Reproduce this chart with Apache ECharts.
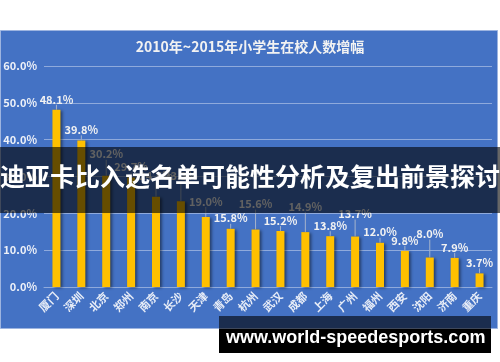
<!DOCTYPE html>
<html>
<head>
<meta charset="utf-8">
<script src="https://cdn.jsdelivr.net/npm/echarts@6/dist/echarts.min.js"></script>
<style>
html,body{margin:0;padding:0;background:#fff;}
#c{width:500px;height:362px;}
</style>
</head>
<body>
<div id="c"></div>
<script>
const titleText = '2010年~2015年小学生在校人数增幅';
const categories = ['厦门','深圳','北京','郑州','南京','长沙','天津','青岛','杭州','武汉','成都','上海','广州','福州','西安','沈阳','济南','重庆'];
const growth = [48.1, 39.8, 30.2, 29.7, 24.5, 23.3, 19.0, 15.8, 15.6, 15.2, 14.9, 13.8, 13.7, 12.0, 9.8, 8.0, 7.9, 3.7];
const yTicks = [0, 10, 20, 30, 40, 50, 60];
const bannerText = '迪亚卡比入选名单可能性分析及复出前景探讨';
const siteText = 'www.world-speedesports.com';

// label lifts (styling): some labels were moved upward in the original
const labelLift = {2: -11, 4: -10, 5: -15, 6: -5, 8: -15, 10: -15, 12: -12, 15: -13};

const chart = echarts.init(document.getElementById('c'), null, {renderer: 'canvas'});
const font = '"Noto Sans CJK SC", "Noto Sans", sans-serif';

chart.setOption({
  backgroundColor: '#ffffff',
  animation: false,
  title: {
    text: titleText,
    left: 'center',
    top: 35,
    textStyle: {color: '#f2f2f2', fontSize: 14, fontWeight: 'bold', fontFamily: font}
  },
  grid: {left: 44, right: 8, top: 66, bottom: 75},
  xAxis: {
    type: 'category',
    data: categories,
    axisLine: {lineStyle: {color: '#8faadc'}},
    axisTick: {show: false},
    axisLabel: {rotate: 45, color: '#e8edf7', fontSize: 11, fontWeight: 'bold', fontFamily: font, margin: 7, interval: 0}
  },
  yAxis: {
    type: 'value',
    min: yTicks[0],
    max: yTicks[yTicks.length - 1],
    interval: 10,
    axisLine: {show: false},
    axisTick: {show: false},
    splitLine: {lineStyle: {color: '#8faadc', width: 1}},
    axisLabel: {color: '#eef1f8', fontSize: 11, fontWeight: 'bold', fontFamily: font, margin: 7,
      formatter: v => v.toFixed(1) + '%'}
  },
  series: [{
    type: 'bar',
    data: growth,
    barWidth: 8,
    itemStyle: {color: '#ffc000', shadowColor: 'rgba(0,0,0,0.45)', shadowBlur: 3, shadowOffsetX: 2, shadowOffsetY: 1},
    label: {show: true, position: 'top', distance: 5, color: '#f2f2f2', fontSize: 11, fontWeight: 'bold', fontFamily: font,
      formatter: p => p.value.toFixed(1) + '%'},
    labelLine: {show: true, lineStyle: {color: '#a6b4cc', width: 1}},
    labelLayout: p => (labelLift[p.dataIndex] ? {dy: labelLift[p.dataIndex]} : {})
  }],
  graphic: [
    {type: 'rect', z: -100, shape: {x: 0.5, y: 30.5, width: 497, height: 298},
      style: {fill: '#4472c4', stroke: '#9db4e0', lineWidth: 1}},
    {type: 'rect', z: 100, shape: {x: 0, y: 147, width: 500, height: 66},
      style: {fill: 'rgba(0,0,0,0.6)'}},
    {type: 'text', z: 101, left: 'center', top: 164,
      style: {text: bannerText, fill: '#ffffff', font: 'bold 25px "Noto Sans CJK SC", sans-serif'}},
    {type: 'rect', z: 100, shape: {x: 219, y: 316, width: 272, height: 13},
      style: {fill: 'rgba(0,0,0,0.6)'}},
    {type: 'rect', z: 100, shape: {x: 219, y: 329, width: 272, height: 24},
      style: {fill: '#000000'}},
    {type: 'text', z: 101, left: 226, top: 329,
      style: {text: siteText, fill: '#ffffff', font: 'bold 18px "Liberation Sans", Arial, sans-serif'}}
  ]
});
</script>
</body>
</html>
